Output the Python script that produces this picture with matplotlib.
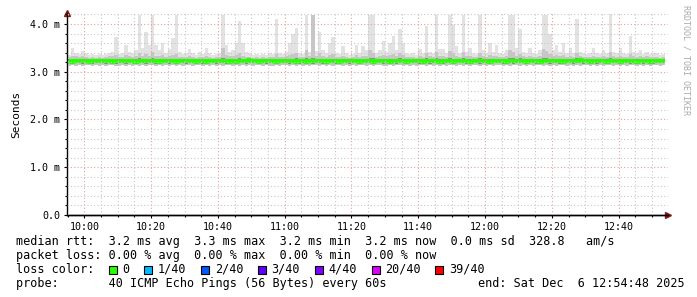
import matplotlib
matplotlib.use("Agg")
import matplotlib.pyplot as plt
import matplotlib.dates as mdates
from matplotlib.ticker import MultipleLocator, FuncFormatter
from matplotlib.patches import Rectangle
from datetime import datetime, timedelta
import numpy as np

# one smoke column per minute, values in ms
start = datetime(2025, 12, 6, 9, 54, 48)
end = datetime(2025, 12, 6, 12, 54, 48)
first_step = datetime(2025, 12, 6, 9, 54, 0)

smoke_max = [
    3.38, 3.36, 3.49, 3.40, 3.38, 3.43, 3.40, 3.36, 3.38, 3.35, 3.37, 3.36, 3.38, 3.40, 3.42, 3.73, 3.38, 3.40, 3.56, 3.42,
    3.40, 3.45, 4.19, 3.50, 3.84, 3.55, 4.19, 3.55, 3.45, 3.60, 3.40, 3.47, 3.70, 4.19, 3.42, 3.38, 3.40, 3.48, 3.40, 3.36,
    3.42, 3.38, 3.50, 3.40, 3.36, 3.38, 3.40, 4.19, 3.56, 3.42, 3.45, 3.60, 4.07, 3.60, 3.42, 3.40, 3.36, 3.38, 3.35, 3.38,
    3.36, 3.40, 3.38, 4.10, 3.40, 3.38, 3.42, 3.60, 3.79, 3.92, 3.40, 3.38, 4.19, 3.42, 4.19, 3.43, 3.84, 3.45, 3.40, 3.60,
    3.72, 3.40, 3.38, 3.53, 3.40, 3.36, 3.38, 3.56, 3.40, 3.53, 3.45, 4.19, 4.19, 3.40, 3.45, 3.64, 3.42, 3.60, 3.75, 3.45,
    3.90, 3.60, 3.40, 3.38, 3.40, 3.36, 3.48, 3.40, 3.96, 3.42, 3.40, 4.19, 3.47, 3.47, 3.40, 4.19, 3.97, 3.53, 3.40, 4.19,
    3.42, 3.50, 3.40, 3.38, 4.19, 3.45, 3.40, 3.60, 3.42, 3.55, 3.40, 3.38, 3.45, 4.19, 4.19, 3.50, 3.90, 3.42, 3.40, 3.50,
    3.40, 3.38, 3.45, 4.19, 4.19, 3.80, 3.45, 3.55, 3.42, 3.60, 3.40, 3.50, 3.40, 4.10, 3.42, 3.40, 3.38, 3.40, 3.50, 3.40,
    3.38, 3.45, 3.40, 4.20, 3.42, 3.40, 3.50, 3.40, 3.38, 3.75, 3.42, 3.40, 3.45, 3.38, 3.42, 3.38, 3.40, 3.40, 3.36, 3.38,
]
smoke_p90 = [
    3.31, 3.30, 3.33, 3.32, 3.30, 3.34, 3.31, 3.29, 3.30, 3.29, 3.30, 3.29, 3.31, 3.32, 3.33, 3.36, 3.30, 3.31, 3.35, 3.32,
    3.31, 3.34, 3.40, 3.33, 3.38, 3.34, 3.42, 3.33, 3.32, 3.35, 3.31, 3.33, 3.36, 3.38, 3.31, 3.30, 3.31, 3.33, 3.30, 3.29,
    3.31, 3.30, 3.33, 3.30, 3.29, 3.30, 3.31, 3.50, 3.36, 3.32, 3.33, 3.36, 3.40, 3.34, 3.31, 3.30, 3.29, 3.30, 3.29, 3.30,
    3.29, 3.31, 3.30, 3.38, 3.31, 3.30, 3.32, 3.36, 3.38, 3.40, 3.31, 3.30, 3.45, 3.32, 4.19, 3.33, 3.40, 3.33, 3.31, 3.35,
    3.38, 3.31, 3.30, 3.34, 3.31, 3.29, 3.30, 3.35, 3.31, 3.34, 3.32, 3.45, 3.40, 3.31, 3.33, 3.36, 3.32, 3.35, 3.38, 3.33,
    3.40, 3.35, 3.31, 3.30, 3.31, 3.29, 3.33, 3.31, 3.40, 3.32, 3.31, 3.42, 3.33, 3.33, 3.31, 3.44, 3.40, 3.34, 3.31, 3.42,
    3.32, 3.34, 3.31, 3.30, 3.40, 3.33, 3.31, 3.35, 3.32, 3.34, 3.31, 3.30, 3.33, 3.45, 3.42, 3.34, 3.38, 3.32, 3.31, 3.34,
    3.31, 3.30, 3.33, 3.48, 3.44, 3.38, 3.33, 3.35, 3.32, 3.36, 3.31, 3.34, 3.31, 3.40, 3.32, 3.31, 3.30, 3.31, 3.34, 3.31,
    3.30, 3.33, 3.31, 3.42, 3.32, 3.31, 3.34, 3.31, 3.30, 3.38, 3.32, 3.31, 3.33, 3.30, 3.32, 3.30, 3.31, 3.31, 3.29, 3.30,
]
smoke_q3 = [
    3.26, 3.26, 3.27, 3.26, 3.26, 3.27, 3.26, 3.25, 3.26, 3.26, 3.26, 3.26, 3.26, 3.27, 3.26, 3.27, 3.26, 3.26, 3.27, 3.26,
    3.26, 3.27, 3.28, 3.26, 3.27, 3.27, 3.28, 3.26, 3.26, 3.27, 3.26, 3.26, 3.27, 3.27, 3.26, 3.26, 3.26, 3.27, 3.26, 3.26,
    3.26, 3.26, 3.27, 3.26, 3.26, 3.26, 3.26, 3.28, 3.27, 3.26, 3.26, 3.27, 3.28, 3.27, 3.26, 3.27, 3.26, 3.26, 3.25, 3.26,
    3.27, 3.26, 3.26, 3.27, 3.26, 3.27, 3.26, 3.27, 3.27, 3.28, 3.26, 3.26, 3.28, 3.26, 3.28, 3.26, 3.27, 3.26, 3.26, 3.27,
    3.27, 3.26, 3.26, 3.27, 3.26, 3.26, 3.27, 3.27, 3.26, 3.27, 3.26, 3.28, 3.28, 3.26, 3.27, 3.27, 3.26, 3.27, 3.27, 3.26,
    3.28, 3.27, 3.26, 3.26, 3.26, 3.26, 3.27, 3.26, 3.28, 3.26, 3.26, 3.28, 3.27, 3.27, 3.26, 3.28, 3.27, 3.27, 3.26, 3.28,
    3.26, 3.27, 3.26, 3.26, 3.28, 3.27, 3.26, 3.27, 3.26, 3.27, 3.26, 3.26, 3.27, 3.28, 3.28, 3.27, 3.28, 3.26, 3.26, 3.27,
    3.26, 3.26, 3.27, 3.28, 3.28, 3.27, 3.27, 3.27, 3.26, 3.27, 3.26, 3.27, 3.26, 3.28, 3.27, 3.26, 3.26, 3.26, 3.27, 3.26,
    3.26, 3.27, 3.26, 3.28, 3.26, 3.26, 3.27, 3.26, 3.26, 3.27, 3.26, 3.26, 3.27, 3.26, 3.26, 3.26, 3.26, 3.26, 3.25, 3.26,
]
smoke_q1 = [
    3.18, 3.18, 3.17, 3.18, 3.18, 3.17, 3.18, 3.18, 3.17, 3.18, 3.18, 3.18, 3.17, 3.18, 3.18, 3.17, 3.18, 3.18, 3.17, 3.18,
    3.18, 3.17, 3.18, 3.18, 3.17, 3.18, 3.18, 3.17, 3.18, 3.18, 3.18, 3.17, 3.18, 3.17, 3.18, 3.18, 3.17, 3.18, 3.18, 3.18,
    3.18, 3.17, 3.18, 3.18, 3.18, 3.17, 3.18, 3.18, 3.17, 3.18, 3.18, 3.17, 3.18, 3.18, 3.17, 3.18, 3.18, 3.18, 3.17, 3.18,
    3.17, 3.18, 3.18, 3.17, 3.18, 3.18, 3.18, 3.17, 3.18, 3.18, 3.17, 3.18, 3.18, 3.18, 3.17, 3.18, 3.18, 3.17, 3.18, 3.18,
    3.18, 3.17, 3.18, 3.18, 3.18, 3.17, 3.18, 3.18, 3.17, 3.18, 3.18, 3.18, 3.17, 3.18, 3.18, 3.17, 3.18, 3.18, 3.18, 3.17,
    3.18, 3.18, 3.17, 3.18, 3.18, 3.18, 3.17, 3.18, 3.18, 3.17, 3.18, 3.18, 3.18, 3.17, 3.18, 3.18, 3.17, 3.18, 3.18, 3.18,
    3.17, 3.18, 3.18, 3.18, 3.17, 3.18, 3.18, 3.17, 3.18, 3.18, 3.18, 3.17, 3.18, 3.18, 3.17, 3.18, 3.18, 3.18, 3.17, 3.18,
    3.18, 3.17, 3.18, 3.18, 3.18, 3.17, 3.18, 3.18, 3.17, 3.18, 3.18, 3.18, 3.17, 3.18, 3.18, 3.17, 3.18, 3.18, 3.18, 3.17,
    3.18, 3.18, 3.17, 3.18, 3.18, 3.18, 3.17, 3.18, 3.18, 3.17, 3.18, 3.18, 3.18, 3.17, 3.18, 3.18, 3.17, 3.18, 3.18, 3.18,
]
smoke_min = [
    3.14, 3.13, 3.14, 3.12, 3.14, 3.13, 3.14, 3.14, 3.13, 3.14, 3.12, 3.14, 3.13, 3.14, 3.14, 3.13, 3.12, 3.14, 3.13, 3.14,
    3.13, 3.14, 3.12, 3.14, 3.13, 3.14, 3.14, 3.13, 3.14, 3.12, 3.14, 3.13, 3.14, 3.13, 3.14, 3.12, 3.14, 3.14, 3.13, 3.14,
    3.14, 3.13, 3.14, 3.12, 3.14, 3.13, 3.14, 3.13, 3.14, 3.14, 3.12, 3.14, 3.13, 3.14, 3.13, 3.14, 3.12, 3.14, 3.14, 3.13,
    3.14, 3.13, 3.12, 3.14, 3.13, 3.14, 3.14, 3.13, 3.14, 3.12, 3.14, 3.13, 3.14, 3.13, 3.14, 3.14, 3.12, 3.14, 3.13, 3.14,
    3.13, 3.14, 3.14, 3.12, 3.14, 3.13, 3.14, 3.13, 3.14, 3.14, 3.12, 3.14, 3.13, 3.14, 3.14, 3.13, 3.12, 3.14, 3.13, 3.14,
    3.14, 3.13, 3.14, 3.12, 3.14, 3.13, 3.14, 3.14, 3.13, 3.14, 3.12, 3.14, 3.13, 3.14, 3.13, 3.14, 3.14, 3.12, 3.14, 3.13,
    3.14, 3.13, 3.14, 3.14, 3.12, 3.14, 3.13, 3.14, 3.13, 3.14, 3.14, 3.12, 3.14, 3.13, 3.14, 3.14, 3.13, 3.14, 3.12, 3.14,
    3.13, 3.14, 3.14, 3.13, 3.14, 3.12, 3.14, 3.13, 3.14, 3.14, 3.13, 3.14, 3.12, 3.14, 3.13, 3.14, 3.14, 3.13, 3.14, 3.12,
    3.14, 3.13, 3.14, 3.14, 3.13, 3.14, 3.12, 3.14, 3.13, 3.14, 3.14, 3.13, 3.14, 3.12, 3.14, 3.13, 3.14, 3.14, 3.13, 3.14,
]
median = [
    3.22, 3.22, 3.21, 3.22, 3.23, 3.22, 3.22, 3.21, 3.22, 3.22, 3.22, 3.23, 3.22, 3.22, 3.21, 3.22, 3.22, 3.22, 3.23, 3.22,
    3.22, 3.21, 3.22, 3.22, 3.22, 3.23, 3.22, 3.22, 3.21, 3.22, 3.22, 3.22, 3.22, 3.21, 3.22, 3.23, 3.22, 3.22, 3.22, 3.21,
    3.22, 3.22, 3.21, 3.22, 3.22, 3.23, 3.22, 3.22, 3.22, 3.21, 3.22, 3.21, 3.22, 3.22, 3.23, 3.24, 3.22, 3.22, 3.21, 3.22,
    3.23, 3.22, 3.22, 3.21, 3.22, 3.23, 3.22, 3.22, 3.22, 3.21, 3.22, 3.22, 3.21, 3.22, 3.22, 3.22, 3.23, 3.22, 3.21, 3.22,
    3.22, 3.22, 3.21, 3.22, 3.22, 3.22, 3.23, 3.22, 3.21, 3.22, 3.22, 3.22, 3.21, 3.22, 3.23, 3.22, 3.22, 3.21, 3.22, 3.22,
    3.22, 3.22, 3.21, 3.22, 3.22, 3.22, 3.22, 3.21, 3.22, 3.23, 3.22, 3.22, 3.21, 3.22, 3.22, 3.22, 3.21, 3.22, 3.22, 3.22,
    3.22, 3.21, 3.22, 3.22, 3.22, 3.23, 3.22, 3.21, 3.22, 3.22, 3.22, 3.22, 3.21, 3.22, 3.22, 3.23, 3.22, 3.22, 3.21, 3.22,
    3.22, 3.22, 3.21, 3.22, 3.22, 3.22, 3.23, 3.22, 3.22, 3.21, 3.22, 3.22, 3.22, 3.23, 3.24, 3.22, 3.22, 3.21, 3.22, 3.22,
    3.22, 3.22, 3.21, 3.22, 3.22, 3.22, 3.21, 3.22, 3.22, 3.22, 3.22, 3.21, 3.22, 3.22, 3.22, 3.21, 3.22, 3.22, 3.22, 3.22,
]

loss_labels = ["0", "1/40", "2/40", "3/40", "4/40", "20/40", "39/40"]
loss_colors = ["#26ff00", "#00b8ff", "#0059ff", "#5e00ff", "#7e00ff", "#dd00ff", "#ff0000"]

legend_rows = [
    "median rtt:  3.2 ms avg  3.3 ms max  3.2 ms min  3.2 ms now  0.0 ms sd  328.8   am/s",
    "packet loss: 0.00 % avg  0.00 % max  0.00 % min  0.00 % now",
]
probe_text = "probe:       40 ICMP Echo Pings (56 Bytes) every 60s"
end_text = "end: Sat Dec  6 12:54:48 2025"

W, H = 697, 297
mono = "DejaVu Sans Mono"

fig = plt.figure(figsize=(W / 100, H / 100), dpi=100)
ax = fig.add_axes([67 / W, (H - 215) / H, 601 / W, 202 / H])

edges = [first_step + timedelta(minutes=i) for i in range(len(smoke_max) + 1)]
ext = lambda a: list(a) + [a[-1]]

ax.fill_between(edges, ext(smoke_min), ext(smoke_max), step="post", color="#e2e2e2", lw=0)
ax.fill_between(edges, ext(smoke_min), ext(smoke_p90), step="post", color="#c6c6c6", lw=0)
ax.fill_between(edges, ext(smoke_q1), ext(smoke_q3), step="post", color="#8c8c8c", lw=0)
ax.step(edges, ext(median), where="post", color=loss_colors[0], lw=3.0, solid_capstyle="butt")

ax.set_xlim(start, end)
ax.set_ylim(0, 4.23)

ax.xaxis.set_major_locator(mdates.MinuteLocator(byminute=[0, 20, 40]))
ax.xaxis.set_minor_locator(mdates.MinuteLocator(byminute=range(0, 60, 5)))
ax.xaxis.set_major_formatter(mdates.DateFormatter("%H:%M"))
ax.yaxis.set_major_locator(MultipleLocator(1.0))
ax.yaxis.set_minor_locator(MultipleLocator(0.2))
ax.yaxis.set_major_formatter(FuncFormatter(lambda v, p: "0.0" if v == 0 else f"{v:.1f} m"))

ax.grid(which="minor", color="#c8c8c8", ls=(0, (1, 2)), lw=0.8)
ax.grid(which="major", color="#e8a0a0", ls=(0, (1, 2)), lw=0.8)
ax.set_axisbelow(False)

for s in ["top", "right"]:
    ax.spines[s].set_visible(False)
for s in ["left", "bottom"]:
    ax.spines[s].set_color("black")
    ax.spines[s].set_linewidth(1)

ax.tick_params(which="both", length=2, width=0.8, color="black", labelsize=7.2, pad=3)
ax.tick_params(which="minor", length=1.5)
for lab in ax.get_xticklabels() + ax.get_yticklabels():
    lab.set_fontfamily(mono)

ax.set_ylabel("Seconds", fontfamily=mono, fontsize=8, labelpad=6)

# axis arrows
ax.plot([0], [1.0], marker="^", color="#8b1a1a", ms=4, transform=ax.transAxes, clip_on=False)
ax.plot([1.0], [0], marker=">", color="#8b1a1a", ms=4, transform=ax.transAxes, clip_on=False)
ax.plot([0, 1.0], [0, 0], color="black", lw=1, transform=ax.transAxes, clip_on=False)

# legend block
cw = 7.1
x0 = 16
fx = lambda px: px / W
fy = lambda py: 1 - py / H
row_y = [241.5, 255.5, 269.5, 283.5]
for r, txt in enumerate(legend_rows):
    fig.text(fx(x0), fy(row_y[r]), txt, fontfamily=mono, fontsize=8.5, va="center", ha="left")

fig.text(fx(x0), fy(row_y[2]), "loss color:", fontfamily=mono, fontsize=8.5, va="center", ha="left")
col = 13
for lab, c in zip(loss_labels, loss_colors):
    sx = x0 + col * cw + 0.5
    fig.add_artist(Rectangle((fx(sx), fy(row_y[2] + 4)), 8 / W, 8 / H, transform=fig.transFigure,
                             facecolor=c, edgecolor="black", lw=0.8))
    fig.text(fx(x0 + (col + 2) * cw), fy(row_y[2]), lab, fontfamily=mono, fontsize=8.5, va="center", ha="left")
    col += 2 + len(lab) + 2

fig.text(fx(x0), fy(row_y[3]), probe_text, fontfamily=mono, fontsize=8.5, va="center", ha="left")
fig.text(fx(478), fy(row_y[3]), end_text, fontfamily=mono, fontsize=8.5, va="center", ha="left")

fig.text(fx(686), fy(5), "RRDTOOL / TOBI OETIKER", fontfamily=mono, fontsize=6, color="#aaaaaa",
         rotation=270, va="top", ha="center")

fig.savefig("out.png", dpi=100, facecolor="white")
